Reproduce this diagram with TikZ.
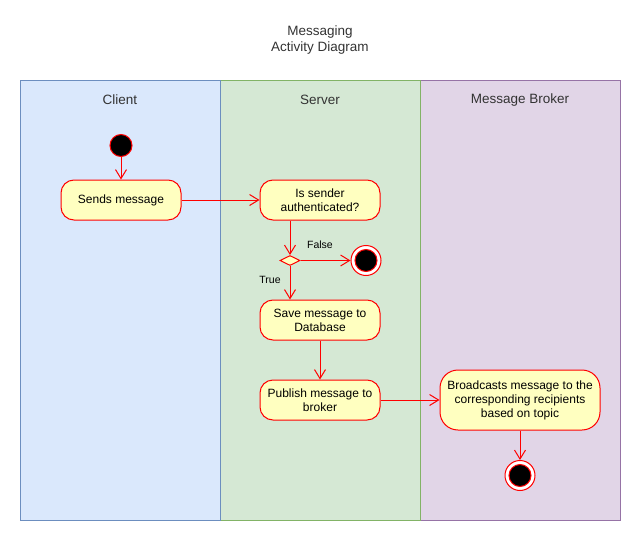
\documentclass[tikz,border=0pt]{standalone}
\usepackage{fontspec}
\setmainfont{Liberation Sans}
\usetikzlibrary{shapes.geometric,arrows.meta}

\definecolor{laneblue}{HTML}{DAE8FC}
\definecolor{laneblueline}{HTML}{6C8EBF}
\definecolor{lanegreen}{HTML}{D5E8D4}
\definecolor{lanegreenline}{HTML}{82B366}
\definecolor{lanepurple}{HTML}{E1D5E7}
\definecolor{lanepurpleline}{HTML}{9673A6}
\definecolor{actfill}{HTML}{FFFFC0}
\definecolor{actline}{HTML}{FF0000}

\begin{document}
\begin{tikzpicture}[x=1pt,y=-1pt,line width=1pt,
    action/.style={draw=actline,fill=actfill,rounded corners=13pt,align=center,
      minimum width=120pt,minimum height=40pt,inner sep=0pt,
      font=\fontsize{12}{14}\selectfont},
    flow/.style={draw=actline,-{Straight Barb[length=9pt,width=11pt]}},
    lanetitle/.style={font=\fontsize{13.5}{16}\selectfont,text=black!80},
    startdot/.style={circle,draw=actline,fill=black,minimum size=22pt,inner sep=0pt},
    endring/.style={circle,draw=actline,fill=white,minimum size=30pt,inner sep=0pt},
    enddot/.style={circle,draw=actline,fill=black,minimum size=22pt,inner sep=0pt},
    guard/.style={font=\fontsize{10.5}{12}\selectfont}]

        \useasboundingbox (0,0) rectangle (641,541);

        % title
        \node[lanetitle,align=center] (title) at (320,40) {Messaging\\Activity Diagram};

        % swimlanes
        \draw[draw=lanepurpleline,fill=lanepurple] (420,80) rectangle (620,520);
        \draw[draw=lanegreenline,fill=lanegreen] (220,80) rectangle (420,520);
        \draw[draw=laneblueline,fill=laneblue] (20,80) rectangle (220,520);

        \node[lanetitle] (client) at (120,100) {Client};
        \node[lanetitle] (server) at (320,100) {Server};
        \node[lanetitle] (broker) at (520,100) {Message Broker};

        % client
        \node[startdot] (start) at (121,145.5) {};
        \node[action] (sends) at (121,200) {Sends message};

        % server
        \node[action] (auth) at (320,200) {Is sender\\authenticated?};
        \node[diamond,draw=actline,fill=actfill,minimum width=20pt,minimum height=10pt,
          inner sep=0pt] (check) at (290,260.5) {};
        \node[endring] (stopA) at (366,260.5) {};
        \node[enddot] (stopAin) at (366,260.5) {};
        \node[action] (save) at (320,320) {Save message to\\Database};
        \node[action] (publish) at (320,400) {Publish message to\\broker};

        % broker
        \node[action,minimum width=160pt,minimum height=60pt,rounded corners=18pt] (bcast)
          at (520,400) {Broadcasts message to the\\corresponding recipients\\based on topic};
        \node[endring] (stopB) at (520,475.5) {};
        \node[enddot] (stopBin) at (520,475.5) {};

        \draw[flow] (start) -- (sends);
        \draw[flow] (sends) -- (auth);
        \draw[flow] (auth.south -| check) -- (check.north);
        \draw[flow] (check.east) -- (stopA);
        \draw[flow] (check.south) -- (save.north -| check);
        \draw[flow] (save) -- (publish);
        \draw[flow] (publish) -- (bcast);
        \draw[flow] (bcast) -- (stopB);

        \node[guard] (false) at (320,245) {False};
        \node[guard] (true) at (270,280) {True};
      \end{tikzpicture}
\end{document}
